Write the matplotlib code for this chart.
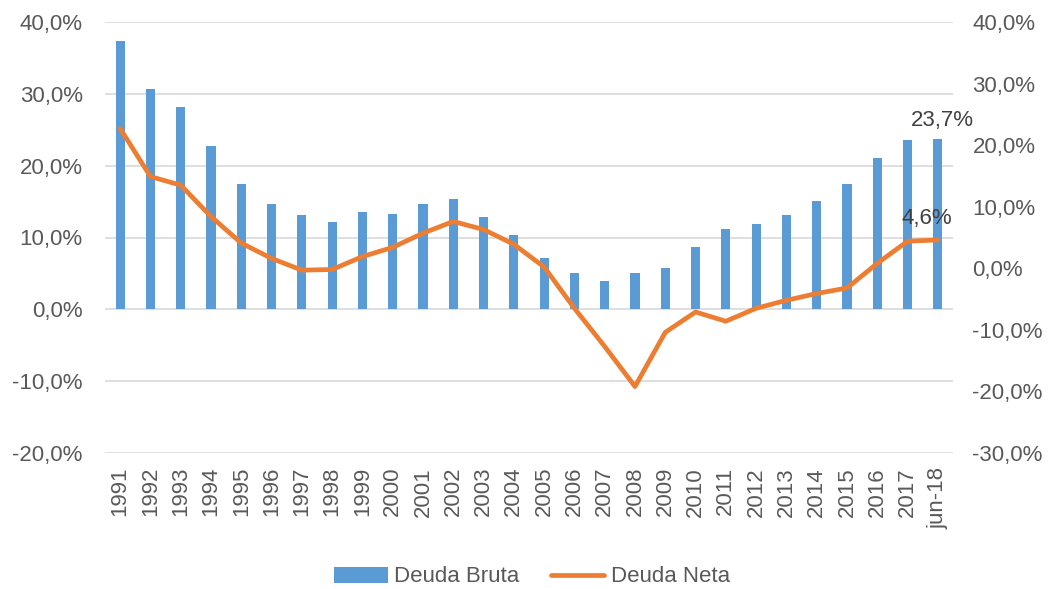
import matplotlib
matplotlib.use("Agg")
import matplotlib.pyplot as plt
from matplotlib.ticker import FuncFormatter
import numpy as np

categories = ["1991", "1992", "1993", "1994", "1995", "1996", "1997", "1998", "1999", "2000",
              "2001", "2002", "2003", "2004", "2005", "2006", "2007", "2008", "2009", "2010",
              "2011", "2012", "2013", "2014", "2015", "2016", "2017", "jun-18"]
deuda_bruta = [37.4, 30.7, 28.2, 22.8, 17.5, 14.7, 13.1, 12.2, 13.5, 13.3,
               14.6, 15.3, 12.9, 10.4, 7.1, 5.0, 3.9, 5.0, 5.8, 8.7,
               11.2, 11.9, 13.1, 15.1, 17.4, 21.1, 23.6, 23.7]
deuda_neta = [22.7, 14.9, 13.5, 8.4, 4.1, 1.6, -0.3, -0.2, 1.9, 3.4,
              5.7, 7.6, 6.3, 3.9, 0.2, -6.5, -12.7, -19.2, -10.4, -7.1,
              -8.6, -6.5, -5.2, -4.1, -3.2, 0.8, 4.4, 4.6]
left_ticks = [-20, -10, 0, 10, 20, 30, 40]
right_ticks = [-30, -20, -10, 0, 10, 20, 30, 40]

plt.rcParams['font.family'] = ['Liberation Sans', 'DejaVu Sans']
fs = 16
tick_color = '#595959'
bar_color = '#5b9bd5'
line_color = '#ed7d31'

fig = plt.figure(figsize=(10.52, 5.89), dpi=100)
ax = fig.add_axes([105/1052, 1-453/589, (953-105)/1052, (453-22)/589])
ax2 = ax.twinx()

x = np.arange(len(categories))
bars = ax.bar(x, deuda_bruta, width=0.3, color=bar_color, label='Deuda Bruta', zorder=2)
ax.set_ylim(-20, 40)
ax.set_yticks(left_ticks)
ax.set_xlim(-0.5, len(categories) - 0.5)
ax.set_xticks(x)
ax.set_xticklabels(categories, rotation=90, fontsize=fs, color=tick_color)
fmt = FuncFormatter(lambda v, p: f"{v:.1f}%".replace('.', ','))
ax.yaxis.set_major_formatter(fmt)
ax.tick_params(axis='y', labelsize=fs, labelcolor=tick_color, length=0, pad=16)
ax.tick_params(axis='x', length=0, pad=10)
ax.grid(axis='y', color='#d9d9d9', linewidth=1.2, zorder=0)
ax.set_axisbelow(True)
for s in ax.spines.values():
    s.set_visible(False)

line, = ax2.plot(x, deuda_neta, color=line_color, linewidth=3.4, label='Deuda Neta',
                 solid_capstyle='round', solid_joinstyle='round', zorder=3)
ax2.set_ylim(-30, 40)
ax2.set_yticks(right_ticks)
ax2.yaxis.set_major_formatter(fmt)
ax2.tick_params(axis='y', labelsize=fs, labelcolor=tick_color, length=0, pad=14)
for s in ax2.spines.values():
    s.set_visible(False)

last = len(categories) - 1
ax.annotate(f"{deuda_bruta[last]:.1f}%".replace('.', ','), (x[last], deuda_bruta[last]),
            xytext=(3, 6), textcoords='offset points', ha='center', va='bottom',
            fontsize=fs, color='#404040')
ax2.annotate(f"{deuda_neta[last]:.1f}%".replace('.', ','), (x[last], deuda_neta[last]),
             xytext=(-8, 8), textcoords='offset points', ha='center', va='bottom',
             fontsize=fs, color='#404040')

fig.legend(handles=[bars, line], labels=['Deuda Bruta', 'Deuda Neta'],
           loc='center', bbox_to_anchor=(532/1052, 1-577/589), ncol=2, frameon=False,
           fontsize=fs, labelcolor=tick_color, handlelength=2.4, handletextpad=0.3,
           columnspacing=1.4)

fig.savefig('out.png', dpi=100)
